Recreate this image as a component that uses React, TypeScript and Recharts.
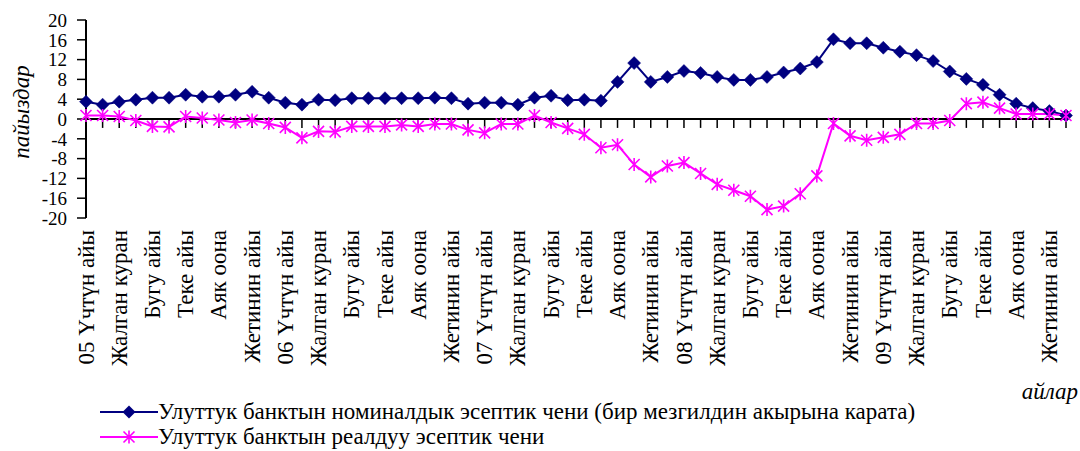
import React from 'react';
import { LineChart, Line, XAxis, YAxis, ReferenceLine, Legend } from 'recharts';

const years = ['05', '06', '07', '08', '09'];
const monthNames = [
  'Үчтүн айы', 'Бирдин айы', 'Жалган куран', 'Чын куран', 'Бугу айы', 'Кулжа',
  'Теке айы', 'Баш оона', 'Аяк оона', 'Тогуздун айы', 'Жетинин айы', 'Бештин айы',
];

const nominalRate = [
  3.5, 2.9, 3.5, 3.9, 4.3, 4.3, 4.9, 4.5, 4.5, 4.9, 5.5, 4.3,
  3.3, 2.9, 3.9, 3.8, 4.2, 4.2, 4.2, 4.2, 4.2, 4.3, 4.2, 3.1,
  3.3, 3.3, 2.9, 4.3, 4.7, 3.8, 3.9, 3.7, 7.5, 11.3, 7.5, 8.5,
  9.7, 9.3, 8.5, 7.9, 7.9, 8.5, 9.4, 10.2, 11.5, 16.1, 15.3, 15.3,
  14.4, 13.6, 12.9, 11.7, 9.6, 8.1, 6.9, 4.9, 3.1, 2.2, 1.6, 0.7,
];

const realRate = [
  0.7, 0.7, 0.5, -0.3, -1.5, -1.6, 0.5, 0.2, -0.2, -0.7, -0.2, -0.9,
  -1.7, -3.8, -2.5, -2.6, -1.5, -1.5, -1.5, -1.2, -1.5, -1.0, -1.0, -2.2,
  -2.8, -1.0, -1.0, 0.7, -0.7, -1.9, -3.1, -5.8, -5.2, -9.2, -11.7, -9.5,
  -8.8, -11.0, -13.2, -14.4, -15.6, -18.3, -17.6, -15.1, -11.5, -0.9, -3.4, -4.3,
  -3.7, -3.1, -0.9, -0.9, -0.3, 3.1, 3.4, 2.2, 1.0, 1.0, 1.0, 0.7,
];

const yTicks = [-20, -16, -12, -8, -4, 0, 4, 8, 12, 16, 20];

const seriesNames = [
  'Улуттук банктын номиналдык эсептик чени (бир мезгилдин акырына карата)',
  'Улуттук банктын реалдуу эсептик чени',
];

const NAVY = '#000080';
const MAGENTA = '#FF00FF';
const FONT = "'Liberation Serif', 'Times New Roman', serif";

const periods: string[] = [];
const labels: string[] = [];
years.forEach((y) => {
  monthNames.forEach((m, mi) => {
    periods.push(`${y}-${mi + 1}`);
    labels.push(mi === 0 ? `${y} ${m}` : m);
  });
});

const data = periods.map((p, i) => ({
  period: p,
  label: labels[i],
  nominal: nominalRate[i],
  real: realRate[i],
}));

const Diamond = (props: any) => {
  const { cx, cy } = props;
  if (cx == null || cy == null) return null;
  const r = 6.5;
  return (
    <path
      d={`M${cx},${cy - r}L${cx + r},${cy}L${cx},${cy + r}L${cx - r},${cy}Z`}
      fill={NAVY}
      stroke={NAVY}
      strokeWidth={0.5}
    />
  );
};

const Star = (props: any) => {
  const { cx, cy } = props;
  if (cx == null || cy == null) return null;
  const r = 6.5;
  const d = 5.5;
  return (
    <path
      d={`M${cx},${cy - r}L${cx},${cy + r}M${cx - d},${cy - d}L${cx + d},${cy + d}M${cx - d},${cy + d}L${cx + d},${cy - d}`}
      stroke={MAGENTA}
      strokeWidth={1.6}
      fill="none"
    />
  );
};

const CategoryTick = (props: any) => {
  const { x, y, index, payload } = props;
  if (index % 2 !== 0) return null;
  const text = labels[index] ?? payload.value;
  return (
    <text
      x={x}
      y={y}
      transform={`rotate(-90, ${x}, ${y})`}
      textAnchor="end"
      dy="0.33em"
      fontFamily={FONT}
      fontSize={23}
      fill="#000"
    >
      {text}
    </text>
  );
};

const YTitle = (props: any) => {
  const vb = props.viewBox || {};
  const cx = (vb.x ?? 0) + 21;
  const cy = (vb.y ?? 0) + (vb.height ?? 0) / 2 - 7;
  return (
    <text
      x={cx}
      y={cy}
      transform={`rotate(-90, ${cx}, ${cy})`}
      textAnchor="middle"
      dy="0.33em"
      fontFamily={FONT}
      fontSize={23}
      fontStyle="italic"
      fill="#000"
    >
      пайыздар
    </text>
  );
};

const LegendContent = () => (
  <div style={{ fontFamily: FONT, fontSize: 23, color: '#000', lineHeight: '25px' }}>
    <div style={{ display: 'flex', alignItems: 'center', whiteSpace: 'nowrap' }}>
      <svg width={58} height={20} style={{ flex: 'none' }}>
        <line x1={0} y1={10} x2={58} y2={10} stroke={NAVY} strokeWidth={2} />
        <path d="M29,3.5L35.5,10L29,16.5L22.5,10Z" fill={NAVY} />
      </svg>
      <span>{seriesNames[0]}</span>
    </div>
    <div style={{ display: 'flex', alignItems: 'center', whiteSpace: 'nowrap' }}>
      <svg width={58} height={20} style={{ flex: 'none' }}>
        <line x1={0} y1={10} x2={58} y2={10} stroke={MAGENTA} strokeWidth={2} />
        <path d="M29,3.5L29,16.5M23.5,4.5L34.5,15.5M23.5,15.5L34.5,4.5" stroke={MAGENTA} strokeWidth={1.6} />
      </svg>
      <span>{seriesNames[1]}</span>
    </div>
  </div>
);

export default function App() {
  return (
    <div style={{ position: 'absolute', left: 0, top: 0, width: 1080, height: 451, background: '#fff' }}>
      <LineChart
        width={1080}
        height={451}
        data={data}
        margin={{ top: 20, right: 14, bottom: 48, left: 0 }}
        style={{ fontFamily: FONT }}
      >
        <XAxis
          dataKey="period"
          interval={0}
          axisLine={false}
          tickLine={false}
          tickSize={0}
          tickMargin={12}
          height={185}
          tick={<CategoryTick />}
          label={{
            value: 'айлар',
            position: 'insideBottomRight',
            offset: 0,
            dx: 12,
            dy: -4,
            style: { fontFamily: FONT, fontSize: 23, fontStyle: 'italic', fill: '#000' },
          }}
        />
        <YAxis
          domain={[-20, 20]}
          ticks={yTicks}
          interval={0}
          width={86}
          axisLine={{ stroke: '#000', strokeWidth: 2 }}
          tickLine={{ stroke: '#000', strokeWidth: 1.5 }}
          tickSize={9}
          tickMargin={10}
          tick={{ fontFamily: FONT, fontSize: 19, fill: '#000' }}
          label={<YTitle />}
        />
        <ReferenceLine y={0} stroke="#000" strokeWidth={2} />
        {periods.map((p) => (
          <ReferenceLine
            key={`tk-${p}`}
            segment={[
              { x: p, y: 0 },
              { x: p, y: -1.8 },
            ]}
            stroke="#000"
            strokeWidth={1.5}
          />
        ))}
        <Line
          type="linear"
          dataKey="nominal"
          name={seriesNames[0]}
          stroke={NAVY}
          strokeWidth={2}
          dot={<Diamond />}
          activeDot={false}
          isAnimationActive={false}
        />
        <Line
          type="linear"
          dataKey="real"
          name={seriesNames[1]}
          stroke={MAGENTA}
          strokeWidth={2}
          dot={<Star />}
          activeDot={false}
          isAnimationActive={false}
        />
        <Legend
          layout="vertical"
          align="center"
          verticalAlign="middle"
          content={<LegendContent />}
          wrapperStyle={{ position: 'absolute', left: 100, top: 399, width: 960, height: 50 }}
        />
      </LineChart>
    </div>
  );
}
